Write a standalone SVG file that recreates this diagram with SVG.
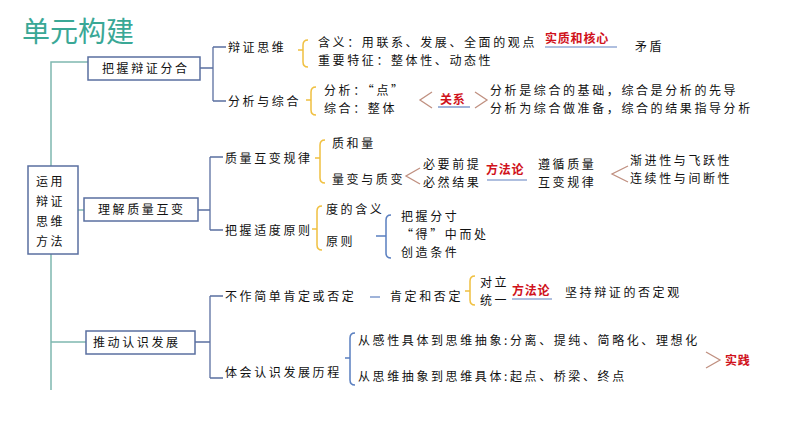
<svg xmlns="http://www.w3.org/2000/svg" width="794" height="447" viewBox="0 0 794 447">
<style>
text{font-family:"Noto Sans CJK SC",sans-serif;font-size:12px;letter-spacing:2.6px;fill:#111}
.red{fill:#d0121b;font-weight:bold;letter-spacing:0.8px}
.box{fill:#fff;stroke:#5a6fa0;stroke-width:1.5}
.ln{fill:none;stroke:#5a6fa0;stroke-width:1.3}
.tl{fill:none;stroke:#7fb8b0;stroke-width:1.5}
.yb{fill:none;stroke:#f0c040;stroke-width:1.5}
.bb{fill:none;stroke:#5a7fc0;stroke-width:1.5}
.ang{fill:none;stroke:#c09080;stroke-width:1.3}
.ul{stroke:#6080c0;stroke-width:1.2}
</style>
<rect width="794" height="447" fill="#fff"/>
<text x="22" y="42" style="font-size:28px;fill:#3aa896;letter-spacing:0">单元构建</text>
<g id="connectors">
<path class="tl" d="M51 166V62H88M51 254V390M78 210H84M51 342H86"/>
<path class="ln" d="M200 68H213M213 47V101M213 47H226M213 101H226"/>
<path class="ln" d="M198 210H210M210 157V230M210 157H223M210 230H223"/>
<path class="ln" d="M195 342H210M210 296V378M210 296H223M210 378H223"/>
<path class="yb" d="M308 40Q303 40 303 45V50H298M303 50V62Q303 67 308 67"/>
<path class="yb" d="M316 87Q311 87 311 92V100H306M311 100V110Q311 115 316 115"/>
<path class="yb" d="M325 140Q320 140 320 145V158H315M320 158V178Q320 183 325 183"/>
<path class="yb" d="M322 206Q317 206 317 211V229H312M317 229V245Q317 250 322 250"/>
<path class="yb" d="M475 276Q470 276 470 281V291H465M470 291V300Q470 305 475 305"/>
<path class="bb" d="M391 215Q386 215 386 220V236H376M386 236V253Q386 258 391 258"/>
<path class="bb" d="M355 333Q350 333 350 338V358H345M350 358V380Q350 385 355 385"/>
<path class="ang" d="M432 92L420 100L432 108M475 92L487 100L475 108"/>
<path class="ang" d="M420 168L406 176L420 184M628 166L612 174L628 182"/>
<path class="ang" d="M706 352L720 360L706 368"/>
<line class="ul" x1="370" y1="297" x2="380" y2="297"/>
<line class="ul" x1="438" y1="107" x2="470" y2="107"/>
<line class="ul" x1="487" y1="180" x2="527" y2="180"/>
<line class="ul" x1="512" y1="299" x2="552" y2="299"/>
<line class="ul" x1="545" y1="47" x2="617" y2="47"/>
</g>
<g id="root"><rect class="box" x="28" y="166" width="50" height="88"/>
<text x="36" y="186">运用</text><text x="36" y="206">辩证</text><text x="36" y="226">思维</text><text x="36" y="246">方法</text></g>
<g id="b1"><rect class="box" x="88" y="57" width="112" height="23"/><text x="102" y="73">把握辩证分合</text></g>
<g id="b2"><rect class="box" x="84" y="198" width="114" height="23"/><text x="98" y="214">理解质量互变</text></g>
<g id="b3"><rect class="box" x="86" y="331" width="109" height="23"/><text x="93" y="347">推动认识发展</text></g>
<g id="n1"><text x="228" y="52">辩证思维</text>
<text x="318" y="47">含义：用联系、发展、全面的观点</text><text x="318" y="65">重要特征：整体性、动态性</text>
<text class="red" x="545" y="43">实质和核心</text><text x="635" y="51">矛盾</text></g>
<g id="n2"><text x="228" y="106">分析与综合</text>
<text x="324" y="95">分析：“点”</text><text x="324" y="113">综合：整体</text>
<text class="red" x="440" y="104">关系</text>
<text x="490" y="95">分析是综合的基础，综合是分析的先导</text><text x="490" y="113">分析为综合做准备，综合的结果指导分析</text></g>
<g id="n3"><text x="225" y="163">质量互变规律</text>
<text x="332" y="148">质和量</text><text x="332" y="184">量变与质变</text>
<text x="423" y="169">必要前提</text><text x="423" y="187">必然结果</text>
<text class="red" x="486" y="174">方法论</text>
<text x="538" y="169">遵循质量</text><text x="538" y="187">互变规律</text>
<text x="630" y="165">渐进性与飞跃性</text><text x="630" y="183">连续性与间断性</text></g>
<g id="n4"><text x="225" y="235">把握适度原则</text>
<text x="326" y="214">度的含义</text><text x="326" y="246">原则</text>
<text x="401" y="221">把握分寸</text><text x="401" y="239">“得”中而处</text><text x="401" y="257">创造条件</text></g>
<g id="n5"><text x="225" y="301">不作简单肯定或否定</text><text x="390" y="301">肯定和否定</text>
<text x="480" y="287">对立</text><text x="480" y="305">统一</text>
<text class="red" x="512" y="295">方法论</text><text x="565" y="297">坚持辩证的否定观</text></g>
<g id="n6"><text x="225" y="377">体会认识发展历程</text>
<text x="358" y="345">从感性具体到思维抽象:分离、提纯、简略化、理想化</text>
<text x="358" y="381">从思维抽象到思维具体:起点、桥梁、终点</text>
<text class="red" x="725" y="365">实践</text></g>
</svg>
